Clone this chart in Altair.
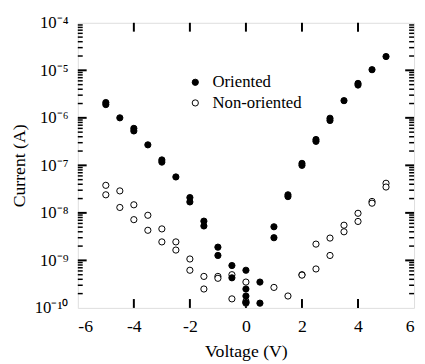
import altair as alt
import pandas as pd

# ---- data ----
oriented_v = [-5, -5, -4.5, -4, -4, -3.5, -3, -3, -2.5, -2, -2, -1.5, -1.5, -1, -1,
              -0.5, -0.5, 0, 0, 0, 0, 0.5, 0.5, 1, 1, 1.5, 1.5, 2, 2, 2.5, 2.5,
              3, 3, 3.5, 4, 4, 4.5, 5]
oriented_i = [2.1e-6, 1.9e-6, 1.0e-6, 6.0e-7, 5.3e-7, 2.7e-7, 1.3e-7, 1.17e-7, 5.7e-8,
              2.1e-8, 1.7e-8, 6.7e-9, 5.3e-9, 1.9e-9, 1.27e-9,
              7.8e-10, 4.3e-10, 6.2e-10, 2.5e-10, 1.78e-10, 1.3e-10, 3.5e-10, 1.26e-10,
              5.1e-9, 3.0e-9, 2.4e-8, 2.2e-8, 1.1e-7, 1.0e-7, 3.5e-7, 3.2e-7,
              9.8e-7, 8.8e-7, 2.3e-6, 5.3e-6, 4.9e-6, 1.03e-5, 1.95e-5]

nonor_v = [-5, -5, -4.5, -4.5, -4, -4, -3.5, -3.5, -3, -3, -2.5, -2.5, -2, -2,
           -1.5, -1.5, -1, -1, -0.5, -0.5, 0, 0, 0, 1, 1.5, 2, 2, 2.5, 2.5,
           3, 3, 3.5, 3.5, 4, 4, 4.5, 4.5, 5, 5]
nonor_i = [3.8e-8, 2.4e-8, 2.9e-8, 1.3e-8, 1.48e-8, 7.2e-9, 8.9e-9, 4.3e-9, 4.6e-9, 2.45e-9,
           2.45e-9, 1.65e-9, 1.07e-9, 6.2e-10, 4.6e-10, 2.5e-10, 4.6e-10, 4.2e-10,
           5.0e-10, 1.55e-10, 3.5e-10, 1.38e-10, 1.26e-10, 2.7e-10, 1.78e-10, 5.0e-10, 4.9e-10,
           2.2e-9, 6.6e-10, 2.95e-9, 1.27e-9, 5.5e-9, 4.0e-9, 9.8e-9, 6.6e-9,
           1.74e-8, 1.6e-8, 4.2e-8, 3.5e-8]

series_names = ["Oriented", "Non-oriented"]

x_ticks = [-6, -4, -2, 0, 2, 4, 6]
x_inner_ticks = [-4, -2, 0, 2, 4]
y_ticks = [1e-10, 1e-9, 1e-8, 1e-7, 1e-6, 1e-5, 1e-4]
y_tick_labels = ["10⁻¹⁰", "10⁻⁹", "10⁻⁸", "10⁻⁷", "10⁻⁶", "10⁻⁵", "10⁻⁴"]
y_major_inner = [1e-9, 1e-8, 1e-7, 1e-6, 1e-5]
minor_mult = [2, 3, 4, 5, 6, 7, 8, 9]
decades = [1e-10, 1e-9, 1e-8, 1e-7, 1e-6, 1e-5]

# ---- tables ----
df = pd.concat([
    pd.DataFrame({"V": nonor_v, "I": nonor_i, "series": series_names[1]}),
    pd.DataFrame({"V": oriented_v, "I": oriented_i, "series": series_names[0]}),
])
minor_df = pd.DataFrame({"y": [m * d for d in decades for m in minor_mult]})
ymaj_df = pd.DataFrame({"y": y_major_inner})
xmaj_df = pd.DataFrame({"x": x_inner_ticks})

W, H = 342, 290
FONT = "Liberation Serif, Times New Roman, serif"

xscale = alt.Scale(domain=[-6, 6], nice=False, zero=False)
yscale = alt.Scale(type="log", domain=[1e-10, 1e-4], nice=False)

label_arr = "[" + ",".join("'" + s + "'" for s in y_tick_labels) + "]"

points = alt.Chart(df).mark_point(shape="circle", size=40, filled=False, opacity=1,
                                  stroke="black", strokeWidth=1).encode(
    x=alt.X("V:Q", scale=xscale,
            axis=alt.Axis(values=x_ticks, labelExpr="'' + datum.value", ticks=False,
                          domain=False, grid=False, labelPadding=10, labelFont=FONT,
                          labelFontSize=18, labelColor="black", title="Voltage (V)",
                          titleFont=FONT, titleFontSize=18, titleFontWeight="normal",
                          titleColor="black", titleY=44, titleBaseline="middle")),
    y=alt.Y("I:Q", scale=yscale,
            axis=alt.Axis(values=y_ticks,
                          labelExpr=label_arr + "[round(log(datum.value)/LN10)+10]",
                          ticks=False, domain=False, grid=False, labelPadding=10,
                          labelFont=FONT, labelFontSize=17, labelColor="black",
                          title="Current (A)", titleFont=FONT, titleFontSize=18,
                          titleFontWeight="normal", titleColor="black",
                          titleX=-59, titleBaseline="middle")),
    fill=alt.Fill("series:N", scale=alt.Scale(domain=series_names, range=["black", "white"]),
                  legend=alt.Legend(title=None, orient="none", legendX=111, legendY=52,
                                    symbolType="circle", symbolSize=40,
                                    symbolStrokeColor="black", symbolStrokeWidth=1,
                                    symbolOpacity=1,
                                    labelFont=FONT, labelFontSize=17, labelColor="black",
                                    labelOffset=9, rowPadding=3, padding=0)),
)

minor_left = alt.Chart(minor_df).mark_rule(color="black", strokeWidth=1.5).encode(
    y=alt.Y("y:Q", scale=yscale), x=alt.value(0), x2=alt.value(5))
minor_right = alt.Chart(minor_df).mark_rule(color="black", strokeWidth=1.5).encode(
    y=alt.Y("y:Q", scale=yscale), x=alt.value(W - 5), x2=alt.value(W))
major_left = alt.Chart(ymaj_df).mark_rule(color="black", strokeWidth=2).encode(
    y=alt.Y("y:Q", scale=yscale), x=alt.value(0), x2=alt.value(9))
major_right = alt.Chart(ymaj_df).mark_rule(color="black", strokeWidth=2).encode(
    y=alt.Y("y:Q", scale=yscale), x=alt.value(W - 9), x2=alt.value(W))
xb = alt.Chart(xmaj_df).mark_rule(color="black", strokeWidth=2).encode(
    x=alt.X("x:Q", scale=xscale), y=alt.value(H), y2=alt.value(H - 9))
xt = alt.Chart(xmaj_df).mark_rule(color="black", strokeWidth=2).encode(
    x=alt.X("x:Q", scale=xscale), y=alt.value(0), y2=alt.value(9))

chart = alt.layer(minor_left, minor_right, major_left, major_right, xb, xt, points).properties(
    width=W, height=H,
    autosize=alt.AutoSizeParams(type="none"),
    padding={"left": 71, "top": 12, "right": 3, "bottom": 54},
).configure_view(stroke="black", strokeWidth=2).configure(background="white", font=FONT)

chart.save("out.html", embed_options={"renderer": "svg", "actions": False})
